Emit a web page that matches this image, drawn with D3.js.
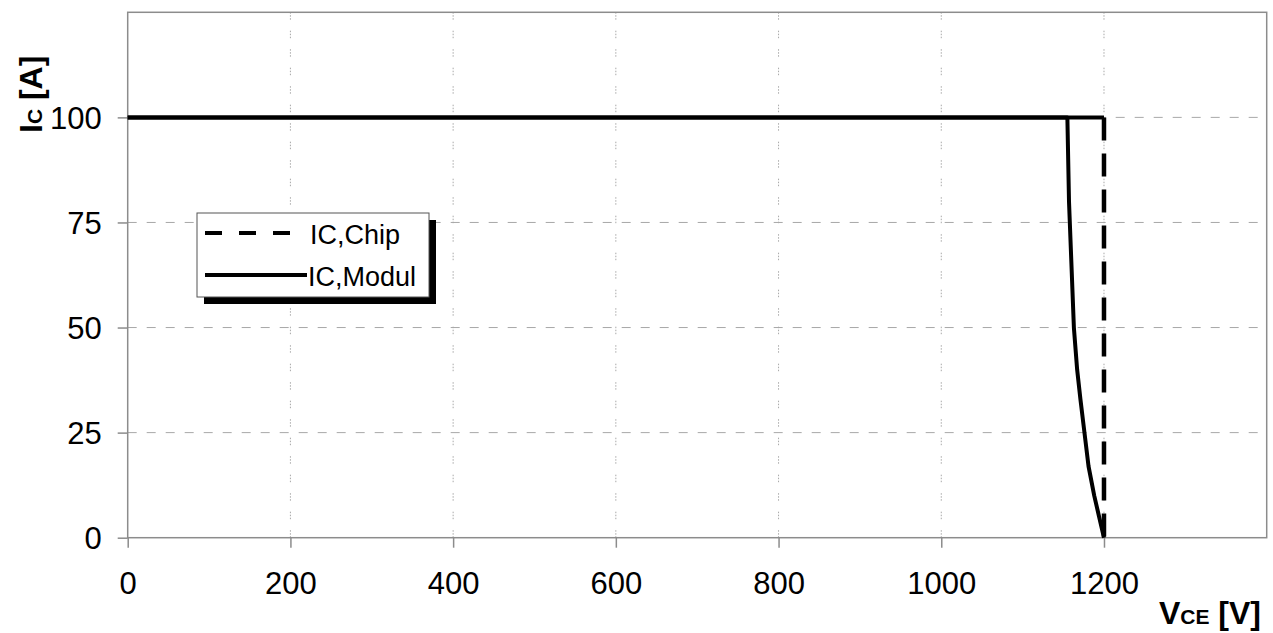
<!DOCTYPE html>
<html>
<head>
<meta charset="utf-8">
<script src="https://cdn.jsdelivr.net/npm/d3@7"></script>
<style>
  body { margin: 0; background: #fff; }
  svg { display: block; font-family: Arial, "Liberation Sans", sans-serif; }
</style>
</head>
<body>
<svg id="chart" width="1273" height="633"></svg>
<script>
// tick values
const vceTicks = [0, 200, 400, 600, 800, 1000, 1200]
const icTicks = [0, 25, 50, 75, 100]

// IC,Chip: rectangular limit
const chipV = [0, 1200, 1200]
const chipI = [100, 100, 0]

// IC,Modul: drops before 1200 V
const modulV = [0, 1155, 1157, 1160, 1163, 1167, 1171, 1176, 1181, 1188, 1194, 1200]
const modulI = [100, 100, 80, 65, 50, 40, 33, 25, 17, 10, 5, 0]

const legendNames = ['IC,Chip', 'IC,Modul']

const svg = d3.select('#chart')

const x = d3.scaleLinear().domain([0, 1400]).range([127.7, 1266.7])
const y = d3.scaleLinear().domain([0, 125]).range([537.7, 12.3])

const axisColor = '#8c8c8c'
const gridColor = '#a8a8a8'

// grid
svg.append('g')
  .selectAll('line')
  .data(vceTicks.filter(d => d > 0))
  .enter()
  .append('line')
  .attr('x1', d => x(d)).attr('x2', d => x(d))
  .attr('y1', y(0)).attr('y2', y(125))
  .attr('stroke', gridColor)
  .attr('stroke-width', 1)
  .attr('stroke-dasharray', '1.5,1.5,1.5,1.5,1.5,11')

svg.append('g')
  .selectAll('line')
  .data(icTicks.filter(d => d > 0))
  .enter()
  .append('line')
  .attr('x1', x(0)).attr('x2', x(1400))
  .attr('y1', d => y(d)).attr('y2', d => y(d))
  .attr('stroke', gridColor)
  .attr('stroke-width', 1)
  .attr('stroke-dasharray', '9,10')

// axes
const xAxis = svg.append('g')
  .attr('transform', `translate(0,${y(0)})`)
  .call(d3.axisBottom(x).tickValues(vceTicks).tickFormat(d3.format('d'))
    .tickSize(10).tickPadding(24).tickSizeOuter(0))
const yAxis = svg.append('g')
  .attr('transform', `translate(${x(0)},0)`)
  .call(d3.axisLeft(y).tickValues(icTicks).tickFormat(d3.format('d'))
    .tickSize(10).tickPadding(16).tickSizeOuter(0))

for (const ax of [xAxis, yAxis]) {
  ax.select('.domain').remove()
  ax.selectAll('.tick line').attr('stroke', axisColor).attr('stroke-width', 1.5)
  ax.selectAll('.tick text')
    .attr('fill', '#000')
    .style('font-size', '31px')
    .style('font-family', 'Arial, "Liberation Sans", sans-serif')
}
yAxis.selectAll('.tick text').attr('dy', '0.36em')
xAxis.selectAll('.tick text').attr('dy', '0.71em')

// plot frame
svg.append('rect')
  .attr('x', x(0)).attr('y', y(125))
  .attr('width', x(1400) - x(0)).attr('height', y(0) - y(125))
  .attr('fill', 'none')
  .attr('stroke', axisColor)
  .attr('stroke-width', 1.5)

const line = d3.line().x(d => x(d[0])).y(d => y(d[1]))

// chip: horizontal segment solid, vertical segment dashed
const chipPts = chipV.map((v, i) => [v, chipI[i]])
svg.append('path')
  .attr('d', line(chipPts.slice(0, 2)))
  .attr('fill', 'none').attr('stroke', '#000').attr('stroke-width', 4)
svg.append('path')
  .attr('d', line(chipPts.slice(1)))
  .attr('fill', 'none').attr('stroke', '#000').attr('stroke-width', 4.5)
  .attr('stroke-dasharray', '23,13')

svg.append('path')
  .attr('d', line(modulV.map((v, i) => [v, modulI[i]])))
  .attr('fill', 'none')
  .attr('stroke', '#000')
  .attr('stroke-width', 4)
  .attr('stroke-linejoin', 'round')

// legend
const lg = svg.append('g').attr('transform', 'translate(197,213)')
lg.append('rect').attr('x', 7).attr('y', 7).attr('width', 232).attr('height', 84).attr('fill', '#000')
lg.append('rect').attr('x', 0).attr('y', 0).attr('width', 232).attr('height', 84)
  .attr('fill', '#fff').attr('stroke', '#555').attr('stroke-width', 1)

legendNames.forEach((name, i) => {
  const ly = 20 + i * 42
  lg.append('line')
    .attr('x1', 8).attr('x2', i === 0 ? 103 : 110)
    .attr('y1', ly).attr('y2', ly)
    .attr('stroke', '#000').attr('stroke-width', 4)
    .attr('stroke-dasharray', i === 0 ? '17,17' : null)
  lg.append('text')
    .attr('x', i === 0 ? 113 : 111).attr('y', ly + 11)
    .style('font-size', '27px')
    .text(name)
})

// axis titles
const xt = svg.append('text')
  .attr('x', 1261).attr('y', 624)
  .attr('text-anchor', 'end')
  .style('font-weight', 'bold').style('font-size', '32px')
xt.append('tspan').text('V')
xt.append('tspan').style('font-size', '21px').text('CE')
xt.append('tspan').text(' [V]')

const yt = svg.append('text')
  .attr('transform', 'translate(42,133) rotate(-90)')
  .attr('text-anchor', 'start')
  .style('font-weight', 'bold').style('font-size', '32px')
yt.append('tspan').text('I')
yt.append('tspan').style('font-size', '21px').text('C')
yt.append('tspan').text(' [A]')
</script>
</body>
</html>
